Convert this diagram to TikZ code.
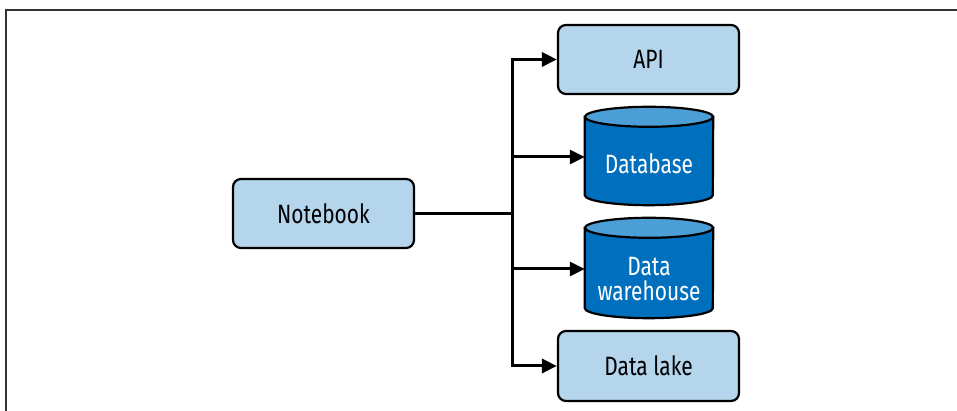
\documentclass[tikz,border=0pt]{standalone}
\usepackage{fontspec}
\setmainfont{Fira Sans}[FakeStretch=0.79]
\usepackage{tikz}
\usetikzlibrary{arrows.meta}
\definecolor{nbLight}{HTML}{B4D5EB}
\definecolor{storeBody}{HTML}{0070BE}
\definecolor{storeTop}{HTML}{4C9ED6}
\definecolor{frameGray}{HTML}{333333}
\tikzset{
  block/.style={rectangle,rounded corners=8pt,draw=black,line width=2.2pt,fill=nbLight,
    minimum width=181pt,minimum height=69pt,align=center,font=\fontsize{26.5}{28}\selectfont},
  store/.style={rectangle,minimum width=128pt,align=center,text=white,
    font=\fontsize{26.5}{25}\selectfont},
  storeline/.style={draw=black,line width=2.2pt},
  arrow/.style={-{Triangle[length=15pt,width=14pt]},line width=3pt}
}
\newcommand{\drawstore}[1]{%
  \path[storeline,fill=storeBody] (#1.north west) -- ([yshift=10pt]#1.south west)
    arc[start angle=180,end angle=360,x radius=64,y radius=10]
    -- (#1.north east) -- cycle;
  \path[storeline,fill=storeTop] (#1.north) ellipse[x radius=64,y radius=10];
}

\begin{document}
\begin{tikzpicture}[x=1pt,y=1pt]
\useasboundingbox (0,0) rectangle (957,411);
\draw[frameGray,line width=1.5pt] (6,0) -- (6,401) -- (957,401);

\node[block] (notebook) at (323.5,197.5) {Notebook};
\node[block] (api) at (648.5,351.5) {API};
\node[block,minimum height=70pt] (lake) at (648.5,45) {Data lake};
\node[store,minimum height=88pt] (database) at (649,250) {};
\node[store,minimum height=90pt] (warehouse) at (649,138) {};
\drawstore{database}
\drawstore{warehouse}
\node[store] (dbtext) at ([yshift=-3pt]database.center) {Database};
\node[store] (whtext) at ([yshift=-6pt]warehouse.center) {Data\\warehouse};

\coordinate (split) at (512,197.5);
\draw[line width=3pt] (notebook.east) -- (split);
\draw[arrow] (split) |- (api.west);
\draw[arrow] (split) |- ([yshift=4pt]database.west);
\draw[arrow] (split) |- ([yshift=4pt]warehouse.west);
\draw[arrow] (split) |- (lake.west);
\end{tikzpicture}
\end{document}
